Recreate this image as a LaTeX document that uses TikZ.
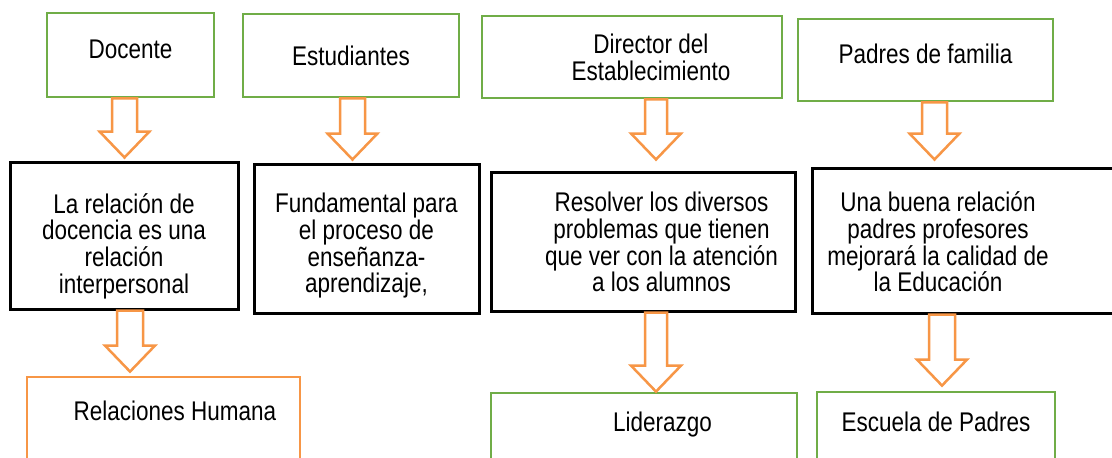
\documentclass[tikz,border=0pt]{standalone}
\usepackage{graphicx}
\usepackage{fontspec}
\setmainfont{Liberation Sans}
\usetikzlibrary{calc}
\definecolor{boxgreen}{RGB}{112,173,71}
\definecolor{boxorange}{RGB}{247,150,70}
% block arrow from a start coordinate (top of shaft) down to a tip level; #1 = shaft half width
\newcommand\blockarr[3][12.5pt]{%
  \draw[barrow] let \p1=(#2), \p2=(#3) in
    (\x1-#1,\y1) -- (\x1-#1,\y2+26pt) -- (\x1-25pt,\y2+26pt) --
    (\x1,\y2) -- (\x1+25pt,\y2+26pt) -- (\x1+#1,\y2+26pt) --
    (\x1+#1,\y1) -- cycle;}
% #1 left pad, #2 right pad, #3 raise of first baseline above node centre, #4 lines
\newcommand\Tx[4]{\raisebox{#3}[0pt][0pt]{\scalebox{1}[1.2]{\vtop{\baselineskip=22.25pt\lineskiplimit=-100pt\let\\=\cr\halign{\hskip#1\hfil##\hfil\hskip#2\cr#4\cr}}}}}
\begin{document}
\begin{tikzpicture}[x=1pt,y=-1pt,
  every node/.style={font=\fontsize{22.5}{22.25}\selectfont, inner sep=0pt},
  gbox/.style={draw=boxgreen, line width=2.8pt, fill=white},
  kbox/.style={draw=black, line width=3pt, fill=white},
  obox/.style={draw=boxorange, line width=2.8pt, fill=white},
  barrow/.style={draw=boxorange, line width=2.5pt, fill=white, line join=miter}]
\useasboundingbox (0,0) rectangle (1112,458);
\clip (0,0) rectangle (1112,458);
\fill[white] (0,0) rectangle (1112,458);

% top row
\node[gbox, minimum width=167pt, minimum height=84pt] (doc) at (130.5,55) {\Tx{0pt}{0pt}{-3.3pt}{Docente}};
\node[gbox, minimum width=216pt, minimum height=83pt] (est) at (351,55.5) {\Tx{0pt}{0pt}{-9.5pt}{Estudiantes}};
\node[gbox, minimum width=300pt, minimum height=82pt] (dir) at (632,57) {\Tx{38pt}{0pt}{3.7pt}{Director del\\Establecimiento}};
\node[gbox, minimum width=255pt, minimum height=82pt] (pad) at (925.5,60) {\Tx{0pt}{0pt}{-3.3pt}{Padres de familia}};

% middle row
\node[kbox, minimum width=228pt, minimum height=147pt] (b1) at (124,235.5) {\Tx{0pt}{0pt}{22.5pt}{La relación de\\docencia es una\\relación\\interpersonal}};
\node[kbox, minimum width=225pt, minimum height=149pt] (b2) at (366.5,238.5) {\Tx{0pt}{0pt}{25.8pt}{Fundamental para\\el proceso de\\enseñanza-\\aprendizaje,}};
\node[kbox, minimum width=304pt, minimum height=139pt] (b3) at (643,241.5) {\Tx{37pt}{0pt}{29.8pt}{Resolver los diversos\\problemas que tienen\\que ver con la atención\\a los alumnos}};
\node[kbox, minimum width=308pt, minimum height=145pt] (b4) at (966,240.5) {\Tx{0pt}{56pt}{28.8pt}{Una buena relación\\padres profesores\\mejorará la calidad de\\la Educación}};

% bottom row
\node[obox, minimum width=273pt, minimum height=93pt] (rel) at (163.5,423.5) {\Tx{23pt}{0pt}{3.5pt}{Relaciones Humana}};
\node[gbox, minimum width=306pt, minimum height=77pt] (lid) at (644,431.5) {\Tx{37pt}{0pt}{-0.2pt}{Liderazgo}};
\node[gbox, minimum width=238pt, minimum height=78pt] (esc) at (936,431) {\Tx{0pt}{0pt}{-0.7pt}{Escuela de Padres}};

% arrow end points
\coordinate (a1s) at ([xshift=-6pt]doc.south);
\coordinate (a1t) at ([yshift=3pt]b1.north);
\coordinate (a2s) at ([xshift=1.5pt]est.south);
\coordinate (a2t) at ([yshift=3pt]b2.north);
\coordinate (a3s) at ([xshift=24pt]dir.south);
\coordinate (a3t) at ([yshift=11pt]b3.north);
\coordinate (a4s) at ([xshift=9pt]pad.south);
\coordinate (a4t) at ([yshift=7pt]b4.north);
\coordinate (a5s) at ([xshift=6pt]b1.south);
\coordinate (a5t) at ([yshift=4pt]rel.north);
\coordinate (a6s) at ([xshift=13pt]b3.south);
\coordinate (a6t) at (lid.north);
\coordinate (a7s) at ([xshift=-24pt]b4.south);
\coordinate (a7t) at ([yshift=5pt]esc.north);

\blockarr{a1s}{a1t}
\blockarr{a2s}{a2t}
\blockarr[11pt]{a3s}{a3t}
\blockarr{a4s}{a4t}
\blockarr[13pt]{a5s}{a5t}
\blockarr[11pt]{a6s}{a6t}
\blockarr[13pt]{a7s}{a7t}
\end{tikzpicture}
\end{document}
